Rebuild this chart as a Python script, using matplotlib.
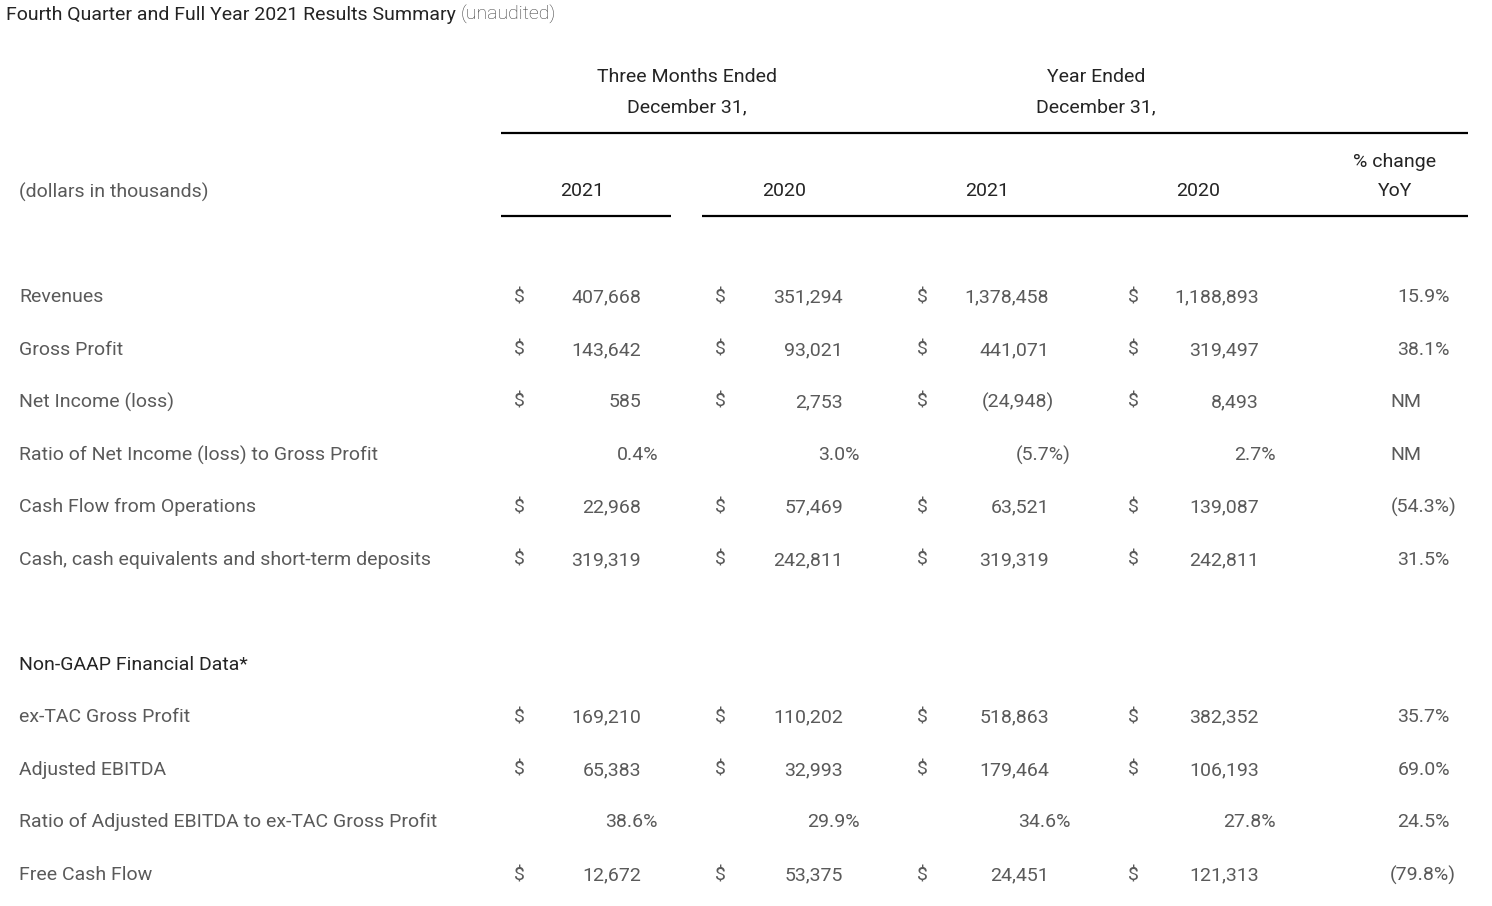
import matplotlib
matplotlib.use("Agg")
import matplotlib.pyplot as plt

title_main = "Fourth Quarter and Full Year 2021 Results Summary"
title_note = "(unaudited)"
group_headers = ["Three Months Ended\nDecember 31,", "Year Ended\nDecember 31,"]
col_years = ["2021", "2020", "2021", "2020"]
yoy_header = "% change\nYoY"
units_label = "(dollars in thousands)"

row_labels = ["Revenues", "Gross Profit", "Net Income (loss)",
              "Ratio of Net Income (loss) to Gross Profit",
              "Cash Flow from Operations",
              "Cash, cash equivalents and short-term deposits"]
q4_2021 = ["407,668", "143,642", "585", "0.4%", "22,968", "319,319"]
q4_2020 = ["351,294", "93,021", "2,753", "3.0%", "57,469", "242,811"]
fy_2021 = ["1,378,458", "441,071", "(24,948)", "(5.7%)", "63,521", "319,319"]
fy_2020 = ["1,188,893", "319,497", "8,493", "2.7%", "139,087", "242,811"]
yoy = ["15.9%", "38.1%", "NM", "NM", "(54.3%)", "31.5%"]

section2 = "Non-GAAP Financial Data*"
row_labels2 = ["ex-TAC Gross Profit", "Adjusted EBITDA",
               "Ratio of Adjusted EBITDA to ex-TAC Gross Profit", "Free Cash Flow"]
q4_2021_b = ["169,210", "65,383", "38.6%", "12,672"]
q4_2020_b = ["110,202", "32,993", "29.9%", "53,375"]
fy_2021_b = ["518,863", "179,464", "34.6%", "24,451"]
fy_2020_b = ["382,352", "106,193", "27.8%", "121,313"]
yoy_b = ["35.7%", "69.0%", "24.5%", "(79.8%)"]

W, H = 1492, 906
fig = plt.figure(figsize=(W / 100, H / 100), dpi=100)
ax = fig.add_axes([0, 0, 1, 1])
ax.set_xlim(0, W)
ax.set_ylim(H, 0)
ax.axis("off")

FAM = ["Roboto", "DejaVu Sans"]
LIGHT = "normal"
BODY = "#5a5a5a"
DARK = "#242424"
FS = 14.0
DY = 2

def txt(x, y, s, ha="left", color=BODY, weight=LIGHT, size=FS, **kw):
    ax.text(x, y + DY, s, ha=ha, va="center", color=color, fontweight=weight,
            fontsize=size, family=FAM, **kw)

# title
t = ax.text(6, 15, title_main, ha="left", va="center", color=DARK,
            fontsize=14, family=FAM, fontweight="normal")
fig.canvas.draw()
bb = t.get_window_extent()
ax.text(bb.x1 + 5, 15, title_note, ha="left", va="center", color="#3c3c3c",
        fontsize=14, family=FAM, fontweight="light")

# group headers
for cx, s in zip([687, 1096], group_headers):
    l1, l2 = s.split("\n")
    txt(cx, 75, l1, ha="center", color=DARK)
    txt(cx, 105, l2, ha="center", color=DARK)

ax.plot([501, 1468], [133, 133], color="black", lw=1.6, solid_capstyle="butt")
ax.plot([501, 671], [216, 216], color="black", lw=1.6, solid_capstyle="butt")
ax.plot([702, 1468], [216, 216], color="black", lw=1.6, solid_capstyle="butt")

txt(19, 190, units_label)
for cx, s in zip([582, 784, 987, 1198], col_years):
    txt(cx, 189, s, ha="center", color=DARK)
y1, y2 = yoy_header.split("\n")
txt(1395, 160, y1, ha="center", color=DARK)
txt(1395, 189, y2, ha="center", color=DARK)

dollar_x = [519, 720, 922, 1133]
num_right = [641, 843, 1049, 1259]
pct_right = [658, 860, 1071, 1276]

def draw_rows(ys, labels, cols, yoys):
    for i, y in enumerate(ys):
        txt(19, y, labels[i])
        for j, col in enumerate(cols):
            v = col[i]
            if "%" in v:
                txt(pct_right[j], y, v, ha="right")
            else:
                txt(dollar_x[j], y, "$", ha="center")
                x = num_right[j] + (5 if v.startswith("(") else 0)
                txt(x, y, v, ha="right")
        v = yoys[i]
        if v == "NM":
            txt(1406, y, v, ha="center")
        else:
            txt(1450 + (6 if v.startswith("(") else 0), y, v, ha="right")

draw_rows([295, 348, 400, 453, 505, 558], row_labels,
          [q4_2021, q4_2020, fy_2021, fy_2020], yoy)
txt(19, 663, section2, color=DARK)
draw_rows([715, 768, 820, 873], row_labels2,
          [q4_2021_b, q4_2020_b, fy_2021_b, fy_2020_b], yoy_b)

fig.savefig("out.png", dpi=100)
